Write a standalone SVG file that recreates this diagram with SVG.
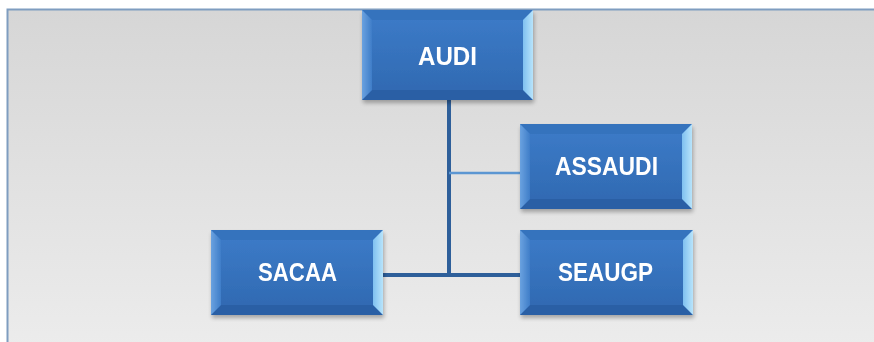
<svg xmlns="http://www.w3.org/2000/svg" width="874" height="342" viewBox="0 0 874 342">
<defs>
<linearGradient id="bg" x1="0" y1="0" x2="0" y2="1">
<stop offset="0" stop-color="#d6d6d6"/>
<stop offset="1" stop-color="#ececec"/>
</linearGradient>
<linearGradient id="face" x1="0" y1="0" x2="0" y2="1">
<stop offset="0" stop-color="#3d7cc9"/>
<stop offset="1" stop-color="#2f68b0"/>
</linearGradient>
<linearGradient id="lb" x1="0" y1="0" x2="1" y2="0">
<stop offset="0" stop-color="#6aa2e0"/>
<stop offset="1" stop-color="#3f7dc8"/>
</linearGradient>
<linearGradient id="rb" x1="0" y1="0" x2="1" y2="0">
<stop offset="0" stop-color="#7fc0f0"/>
<stop offset="1" stop-color="#b8e4fb"/>
</linearGradient>
<filter id="sh" x="-10%" y="-10%" width="130%" height="130%">
<feGaussianBlur in="SourceAlpha" stdDeviation="2"/>
<feOffset dx="1" dy="3"/>
<feComponentTransfer><feFuncA type="linear" slope="0.3"/></feComponentTransfer>
<feMerge><feMergeNode/><feMergeNode in="SourceGraphic"/></feMerge>
</filter>
</defs>
<style>
.lbl{font-family:"Liberation Sans","Open Sans",Arial,sans-serif;font-weight:bold;font-size:25px;fill:#ffffff;text-anchor:middle}
.top{fill:#3573bd}
.bot{fill:#2a5fa5}
.main{stroke:#2e5f9a;stroke-width:4;fill:none}
.sub{stroke:#5b96d2;stroke-width:2.5;fill:none}
</style>
<rect x="0" y="0" width="874" height="342" fill="#ffffff"/>
<rect x="7.5" y="9.5" width="880" height="340" fill="url(#bg)" stroke="#7f9dc0" stroke-width="2"/>
<g id="connectors">
<line class="main" x1="449" y1="100" x2="449" y2="275"/>
<line class="main" x1="383" y1="275" x2="520" y2="275"/>
<line class="sub" x1="449" y1="173" x2="520" y2="173"/>
</g>
<g id="audi" filter="url(#sh)">
<rect x="362" y="10" width="171" height="90" fill="url(#face)"/>
<polygon class="top" points="362,10 533,10 523,20 372,20"/>
<polygon class="bot" points="362,100 533,100 523,90 372,90"/>
<polygon fill="url(#lb)" points="362,10 372,20 372,90 362,100"/>
<polygon fill="url(#rb)" points="533,10 523,20 523,90 533,100"/>
<text class="lbl" x="447.5" y="65" textLength="59" lengthAdjust="spacingAndGlyphs">AUDI</text>
</g>
<g id="assaudi" filter="url(#sh)">
<rect x="520" y="124" width="172" height="85" fill="url(#face)"/>
<polygon class="top" points="520,124 692,124 682,134 530,134"/>
<polygon class="bot" points="520,209 692,209 682,199 530,199"/>
<polygon fill="url(#lb)" points="520,124 530,134 530,199 520,209"/>
<polygon fill="url(#rb)" points="692,124 682,134 682,199 692,209"/>
<text class="lbl" x="606.5" y="175" textLength="103" lengthAdjust="spacingAndGlyphs">ASSAUDI</text>
</g>
<g id="sacaa" filter="url(#sh)">
<rect x="211" y="230" width="172" height="85" fill="url(#face)"/>
<polygon class="top" points="211,230 383,230 373,240 221,240"/>
<polygon class="bot" points="211,315 383,315 373,305 221,305"/>
<polygon fill="url(#lb)" points="211,230 221,240 221,305 211,315"/>
<polygon fill="url(#rb)" points="383,230 373,240 373,305 383,315"/>
<text class="lbl" x="297.5" y="280.5" textLength="79" lengthAdjust="spacingAndGlyphs">SACAA</text>
</g>
<g id="seaugp" filter="url(#sh)">
<rect x="520" y="230" width="173" height="85" fill="url(#face)"/>
<polygon class="top" points="520,230 693,230 683,240 530,240"/>
<polygon class="bot" points="520,315 693,315 683,305 530,305"/>
<polygon fill="url(#lb)" points="520,230 530,240 530,305 520,315"/>
<polygon fill="url(#rb)" points="693,230 683,240 683,305 693,315"/>
<text class="lbl" x="605.5" y="280.5" textLength="95" lengthAdjust="spacingAndGlyphs">SEAUGP</text>
</g>
</svg>
